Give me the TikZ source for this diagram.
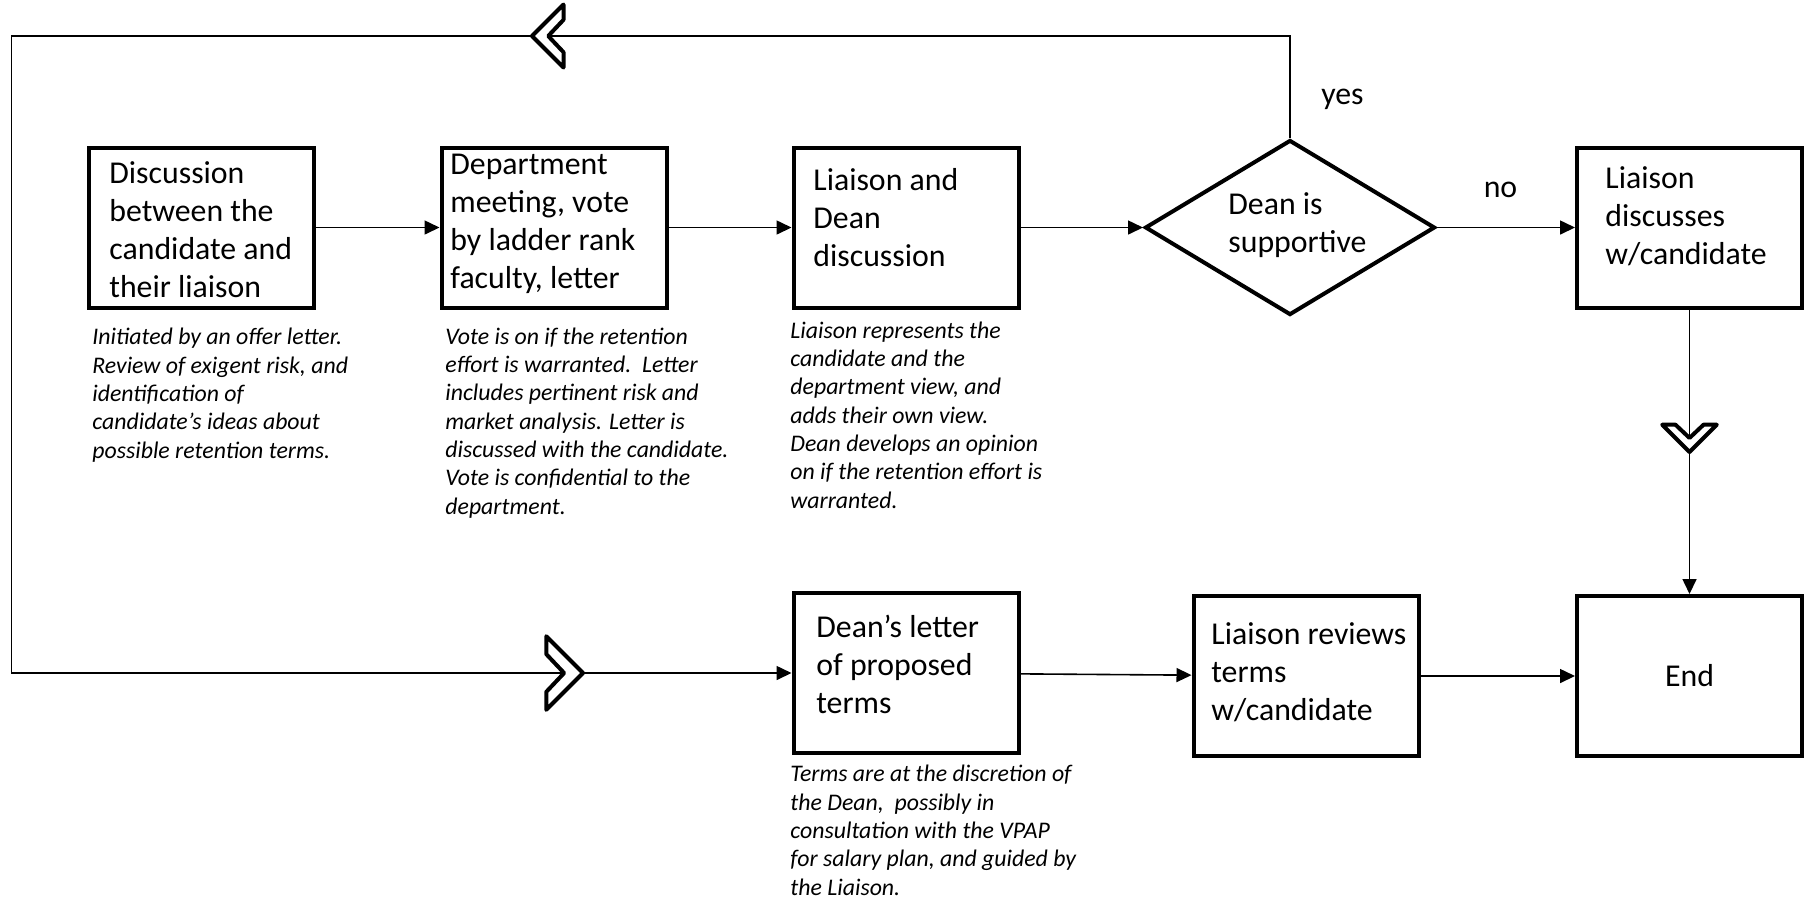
\documentclass[tikz,border=0pt]{standalone}
\usepackage{fontspec}
\setmainfont{Carlito}
\usetikzlibrary{shapes.geometric,arrows.meta}

\tikzset{
  stepbox/.style={draw, rectangle, line width=2pt, minimum width=112.5pt, minimum height=80pt, inner sep=0pt},
  decision/.style={draw, diamond, line width=2pt, minimum width=145pt, minimum height=87.5pt, inner sep=0pt},
  boxtext/.style={anchor=base west, align=left, inner sep=0pt, font=\fontsize{15.9}{19}\selectfont},
  notetext/.style={anchor=base west, align=left, inner sep=0pt, font=\fontsize{11.9}{14.15}\selectfont\itshape},
  flow/.style={line width=0.8pt, -{Triangle[length=7.5pt,width=7pt]}},
  chev/.pic={\draw[line width=2pt, fill=white, line join=round] (0,0) -- (-35,35) -- (-35,18) -- (-18,0) -- (-35,-18) -- (-35,-35) -- cycle;}
}

\begin{document}
\begin{tikzpicture}[x=0.5pt,y=-0.5pt]
\useasboundingbox (0,0) rectangle (1810,902);

\node[stepbox] (disc) at (201.5,227.5) {};
\node[stepbox] (dept) at (554,227.5) {};
\node[stepbox] (meet) at (906,227.5) {};
\node[decision] (dec) at (1290,227.5) {};
\node[stepbox] (ldisc) at (1689.5,227.5) {};

\node[stepbox] (letter) at (906,673) {};
\node[stepbox] (review) at (1306,676) {};
\node[stepbox, font=\fontsize{15.9}{19}\selectfont] (fin) at (1689.5,676) {End};

  \node[boxtext] (discT) at (109,297) {Discussion\\between the\\candidate and\\their liaison};
  \node[boxtext] (deptT) at (450,288) {Department\\meeting, vote\\by ladder rank\\faculty, letter};
  \node[boxtext] (meetT) at (813,266) {Liaison and\\Dean\\discussion};
  \node[boxtext] (decT) at (1228,252) {Dean is\\supportive};
  \node[boxtext] (ldiscT) at (1605,264) {Liaison\\discusses\\w/candidate};
  \node[boxtext] (letterT) at (816,713) {Dean’s letter\\of proposed\\terms};
  \node[boxtext] (reviewT) at (1211,720) {Liaison reviews\\terms\\w/candidate};

\node[notetext] (discN) at (92,458) {Initiated by an offer letter.\\Review of exigent risk, and\\identification of\\candidate’s ideas about\\possible retention terms.};
\node[notetext] (deptN) at (445,514) {Vote is on if the retention\\effort is warranted.\ \ Letter\\includes pertinent risk and\\market analysis. Letter is\\discussed with the candidate.\\Vote is confidential to the\\department.};
\node[notetext] (meetN) at (790,508) {Liaison represents the\\candidate and the\\department view, and\\adds their own view.\\Dean develops an opinion\\on if the retention effort is\\warranted.};
\node[notetext] (letterN) at (790,895) {Terms are at the discretion of\\the Dean,\ \ possibly in\\consultation with the VPAP\\for salary plan, and guided by\\the Liaison.};

  \node[boxtext, anchor=base] (yes) at (1342.5,104) {yes};
  \node[boxtext, anchor=base] (no) at (1500.5,197) {no};

\draw[flow] (disc) -- (dept);
\draw[flow] (dept) -- (meet);
\draw[flow] (meet) -- (dec);
\draw[flow] (dec) -- (ldisc);
\draw[flow] (ldisc) -- (fin);
\draw[flow] (letter) -- (review);
\draw[flow] (review) -- (fin);

\coordinate (loopTL) at (11.5,36);
\draw[flow] (dec.north) |- (loopTL) |- (letter.west);

\pic[rotate=180, scale=0.9] at (532,36) {chev};
\pic[scale=1.05] at (583,673) {chev};
\pic[rotate=-90, scale=0.78] at (1689.5,452) {chev};

\end{tikzpicture}
\end{document}
